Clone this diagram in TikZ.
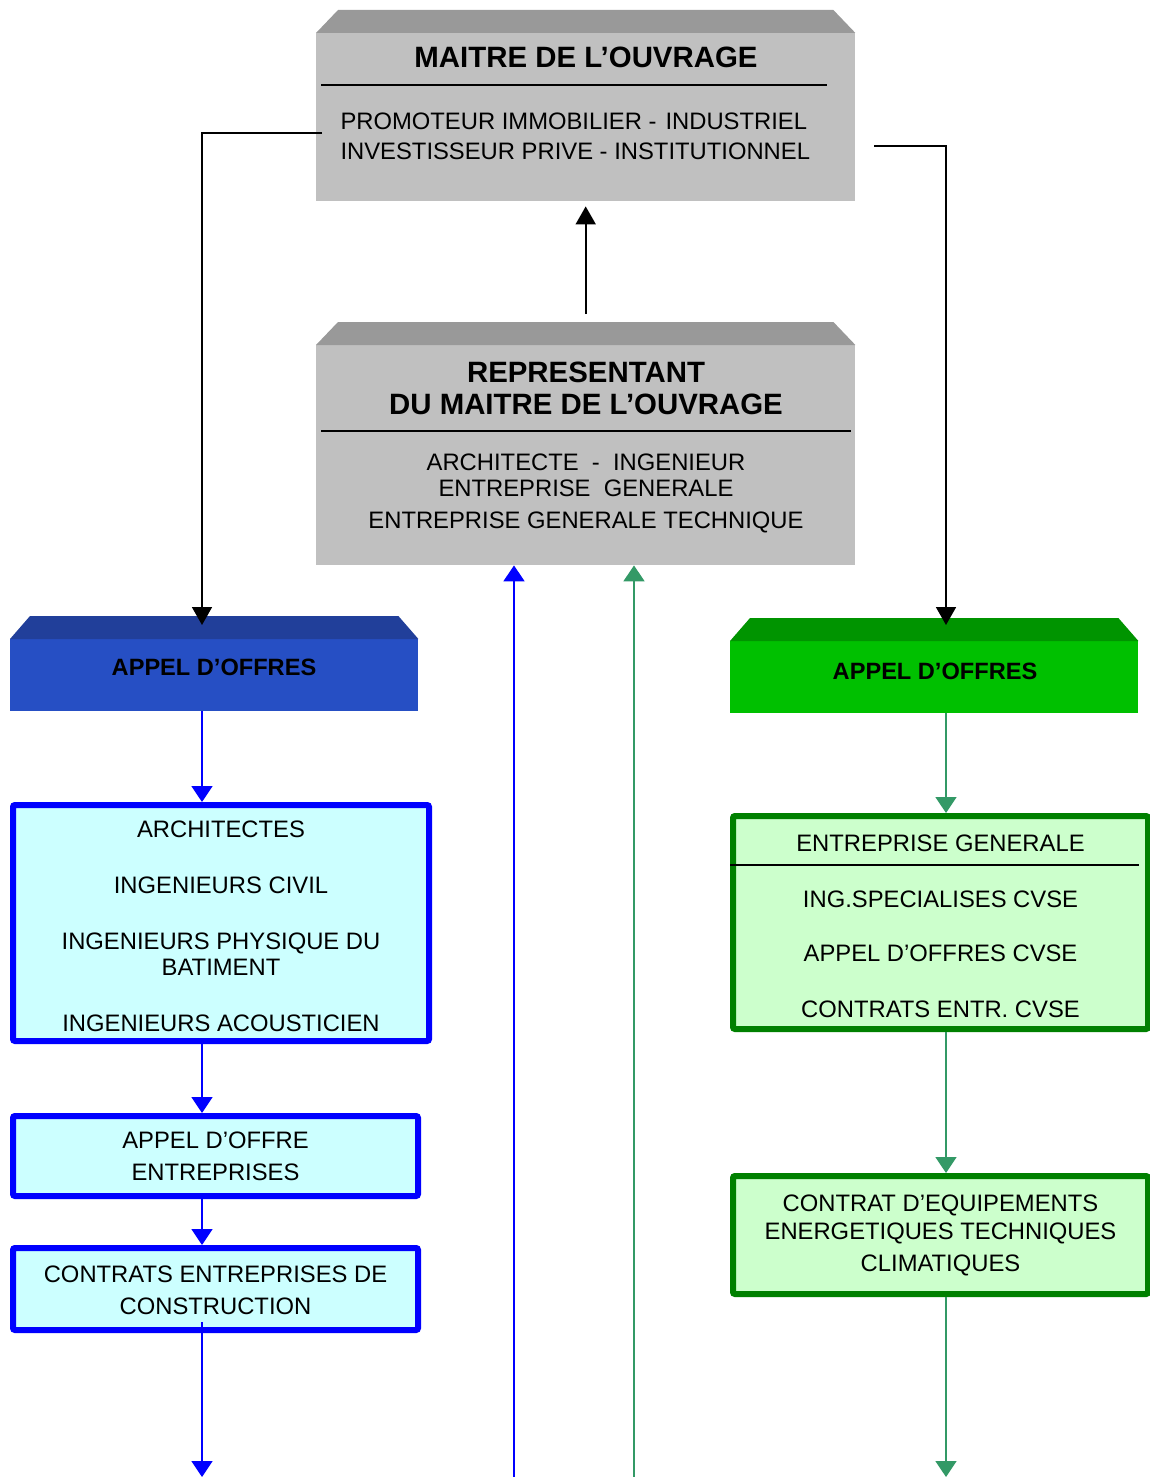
\documentclass[tikz,border=0pt]{standalone}
\usepackage{fontspec}
\setmainfont{Liberation Sans}
\usetikzlibrary{arrows.meta,positioning}

\definecolor{greyfront}{HTML}{C0C0C0}
\definecolor{greytop}{HTML}{999999}
\definecolor{bluefront}{HTML}{264FC4}
\definecolor{bluetop}{HTML}{213F9A}
\definecolor{greenfront}{HTML}{00C000}
\definecolor{greentop}{HTML}{009400}
\definecolor{cyanfill}{HTML}{CCFFFF}
\definecolor{mintfill}{HTML}{CCFFCC}
\definecolor{boxgreen}{HTML}{008000}
\definecolor{linegreen}{HTML}{339966}

% sloped top of a block, #1 node, #2 colour, #3 slant
\newcommand\topface[3]{%
    \fill[#2] (#1.north west) -- ([shift={(#3,-23)}]#1.north west)
        -- ([shift={(-#3,-23)}]#1.north east) -- (#1.north east) -- cycle;}
% taller first line, pushes a text block down
\newcommand\lowerby[1]{\rule{0pt}{#1}}

\tikzset{
    every node/.style={font=\fontsize{23.8}{26}\selectfont},
    face/.style={inner sep=0pt, anchor=north west},
    title/.style={font=\fontsize{29.4}{32}\selectfont\bfseries, align=center},
    headtext/.style={font=\fontsize{23.6}{26}\selectfont\bfseries},
    body/.style={align=center},
    sep/.style={line width=1.6pt},
    cyanbox/.style={draw=blue, fill=cyanfill, line width=6pt, rounded corners=2pt,
        inner sep=0pt, anchor=north west, align=center},
    mintbox/.style={cyanbox, draw=boxgreen, fill=mintfill},
    conn/.style={line width=1.8pt, -{Triangle[width=20pt,length=18pt]}},
    blueconn/.style={line width=1.8pt, draw=blue, -{Triangle[width=21pt,length=16pt]}},
    greenconn/.style={blueconn, draw=linegreen}
}

\begin{document}
\begin{tikzpicture}[x=1pt, y=-1pt]
    \useasboundingbox (0,0) rectangle (1150,1477);

    % grey blocks
    \node[face, fill=greyfront, minimum width=539pt, minimum height=168pt] (mo) at (316,33) {};
    \topface{mo}{greytop}{22}
    \node[title] (motitle) at (586,57) {MAITRE DE L’OUVRAGE};
    \draw[sep] (321,85) -- (827,85);
    \node[body, align=left, anchor=west] (mobody) at (337,136)
        {PROMOTEUR IMMOBILIER -\hspace{9pt}INDUSTRIEL\\[4pt]INVESTISSEUR PRIVE - INSTITUTIONNEL};

    \node[face, fill=greyfront, minimum width=539pt, minimum height=220pt] (rep) at (316,345) {};
    \topface{rep}{greytop}{22}
    \node[title] (reptitle) at (586,388) {REPRESENTANT\\DU MAITRE DE L’OUVRAGE};
    \draw[sep] (321,431) -- (851,431);
    \node[body] (repbody) at (586,493)
        {ARCHITECTE \ - \ INGENIEUR\\ENTREPRISE \ GENERALE\\[6pt]ENTREPRISE GENERALE TECHNIQUE};

    % heads of the two columns
    \node[face, fill=bluefront, minimum width=408pt, minimum height=72pt] (bluehead) at (10,639) {};
    \topface{bluehead}{bluetop}{20}
    \node[headtext] (bluelabel) at (214,667) {APPEL D’OFFRES};

    \node[face, fill=greenfront, minimum width=408pt, minimum height=72pt] (greenhead) at (730,641) {};
    \topface{greenhead}{greentop}{20}
    \node[headtext] (greenlabel) at (935,671) {APPEL D’OFFRES};

    % blue column
    \node[cyanbox, minimum width=416pt, minimum height=236pt] (archi) at (10,802)
        {\lowerby{23pt}ARCHITECTES\\[30pt]INGENIEURS CIVIL\\[30pt]INGENIEURS PHYSIQUE DU\\BATIMENT\\[30pt]INGENIEURS ACOUSTICIEN};
    \node[cyanbox, minimum width=405pt, minimum height=80pt] (aoent) at (10,1113)
        {APPEL D’OFFRE\\[6pt]ENTREPRISES};
    \node[cyanbox, minimum width=405pt, minimum height=82pt] (contracts) at (10,1245)
        {\lowerby{20pt}CONTRATS ENTREPRISES DE\\[6pt]CONSTRUCTION};

    % green column
    \node[mintbox, minimum width=415pt, minimum height=213pt] (cvse) at (730,813)
        {\lowerby{25pt}ENTREPRISE GENERALE\\[30pt]ING.SPECIALISES CVSE\\[28pt]APPEL D’OFFRES CVSE\\[30pt]CONTRATS ENTR. CVSE};
    \draw[sep] (730,865) -- (1139,865);
    \node[mintbox, minimum width=415pt, minimum height=118pt] (equip) at (730,1173)
        {CONTRAT D’EQUIPEMENTS\\[2pt]ENERGETIQUES TECHNIQUES\\[6pt]CLIMATIQUES};

    % connectors
    \coordinate (moleft) at (322,133);
    \coordinate (moright) at (874,146);
    \coordinate (bluein) at (202,625);
    \coordinate (greenin) at (946,625);
    \coordinate (blueout) at (202,1477);
    \coordinate (greenout) at (946,1477);
    \coordinate (blueret) at (514,1477);
    \coordinate (greenret) at (634,1477);

    \draw[conn] ([yshift=31pt]rep.north) -- ([yshift=-5pt]mo.south);
    \draw[conn] (moleft) -| (bluein);
    \draw[conn] (moright) -| (greenin);

    \draw[blueconn] (bluehead.south -| bluein) -- (archi.north -| bluein);
    \draw[blueconn] (archi.south -| bluein) -- (aoent.north -| bluein);
    \draw[blueconn] (aoent.south -| bluein) -- (contracts.north -| bluein);
    \draw[blueconn] ([yshift=11pt]contracts.south -| bluein) -- (blueout);
    \draw[blueconn] (blueret) -- (blueret |- rep.south);

    \draw[greenconn] (greenhead.south -| greenin) -- (cvse.north -| greenin);
    \draw[greenconn] (cvse.south -| greenin) -- (equip.north -| greenin);
    \draw[greenconn] (equip.south -| greenin) -- (greenout);
    \draw[greenconn] (greenret) -- (greenret |- rep.south);
\end{tikzpicture}
\end{document}
